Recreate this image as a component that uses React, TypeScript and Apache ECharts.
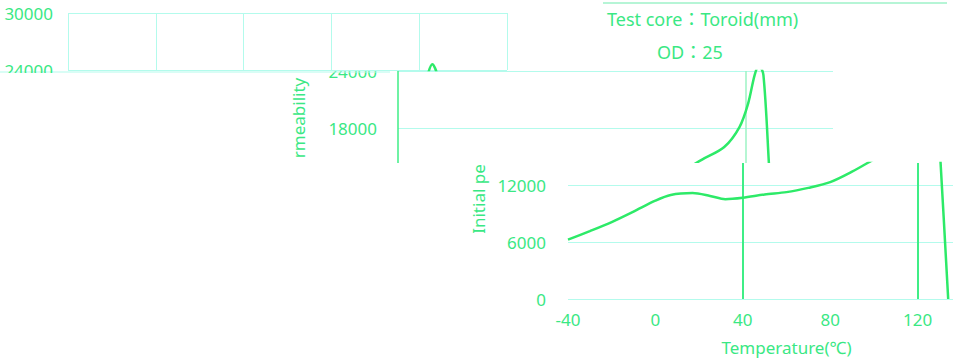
import React, { useEffect, useRef } from "react";
import * as echarts from "echarts";

// ---- data ----
const temperatures = [-40, -30, -20, -10, 0, 7, 17, 25, 32, 40, 50, 60, 70, 80, 90, 100, 110, 117, 121, 124, 126, 128, 130.5, 134];
const permeability = [6250, 7150, 8100, 9200, 10350, 10950, 11150, 10850, 10500, 10650, 11000, 11250, 11700, 12300, 13400, 14700, 16000, 18100, 20600, 23600, 24600, 23600, 14400, 0];
const xMin = -40;
const xMax = 160;
const xStep = 40;
const yStep = 6000;
const titleLines = ["Test core：Toroid(mm)", "OD：25"];
const xName = "Temperature(℃)";
const yNameParts = ["Initial pe", "rmeability"];

const FONT = '"Noto Sans", "Noto Sans CJK TC", sans-serif';
const TEXT = "#3ae884";
const LINE = "#2dea68";
const GRID = "#b3fbec";
const STRONG = "#3fee86";
const T = "rgba(255,255,255,0)";

const plain = (v: number) => String(v);

export default function App() {
  const ref = useRef<HTMLDivElement>(null);

  useEffect(() => {
    if (!ref.current) return;
    const chart = echarts.init(ref.current, undefined, { renderer: "svg" });
    const data = temperatures.map((t, i) => [t, permeability[i]]);

    const labelStyle = { color: TEXT, fontSize: 17, fontFamily: FONT, formatter: plain };

    const xAxisOf = (gridIndex: number, colors: string[], width: number, z: number, extra: any = {}) => ({
      type: "value",
      gridIndex,
      min: xMin,
      max: xMax,
      interval: xStep,
      z,
      axisLine: { show: false },
      axisTick: { show: false },
      axisLabel: { show: false },
      splitLine: { show: true, lineStyle: { color: colors, width } },
      ...extra,
    });

    const option: any = {
      animation: false,
      backgroundColor: "#ffffff",
      grid: [
        // band A (top strip)
        { left: 68, top: 13, width: 439, height: 57, outerBoundsMode: "none", containLabel: false },
        // band B (middle strip)
        { left: 398, top: 71, width: 435, height: 114, outerBoundsMode: "none", containLabel: false },
        // band C (bottom strip)
        { left: 568, top: 163, width: 437, height: 136, outerBoundsMode: "none", containLabel: false },
      ],
      xAxis: [
        xAxisOf(0, [GRID], 1, 5),
        xAxisOf(1, [STRONG, T, T, T, "#9df3c4", T], 1.5, 1),
        xAxisOf(2, [T, T, STRONG, T, STRONG, T], 2, 5, {
          axisLabel: { show: true, margin: 12, showMaxLabel: false, ...labelStyle },
          name: xName,
          nameLocation: "middle",
          nameGap: 40,
          nameTextStyle: { color: TEXT, fontSize: 17, fontFamily: FONT },
        }),
      ],
      yAxis: [
        {
          type: "value", gridIndex: 0, min: 24000, max: 30000, interval: yStep, z: 5,
          axisLine: { show: false }, axisTick: { show: false },
          axisLabel: { margin: 15, ...labelStyle, padding: [10, 0, 0, 0] },
          splitLine: { lineStyle: { color: GRID } },
        },
        {
          type: "value", gridIndex: 1, min: 12000, max: 24000, interval: yStep, z: 1,
          axisLine: { show: false }, axisTick: { show: false },
          axisLabel: { margin: 21, ...labelStyle },
          splitLine: { lineStyle: { color: GRID } },
        },
        {
          type: "value", gridIndex: 2, min: 0, max: 14316, interval: yStep, z: 5,
          axisLine: { show: false }, axisTick: { show: false },
          axisLabel: { margin: 22, showMaxLabel: false, ...labelStyle },
          splitLine: { showMaxLine: false, lineStyle: { color: [GRID, GRID, GRID, T] } },
        },
      ],
      series: [0, 1, 2].map((i) => ({
        type: "line",
        xAxisIndex: i,
        yAxisIndex: i,
        data,
        smooth: 0.3,
        showSymbol: false,
        symbol: "none",
        clip: true,
        z: i === 1 ? 2 : 6,
        lineStyle: { color: LINE, width: 2.5 },
      })),
      graphic: {
        elements: [
          // masks separating the strips
          { type: "rect", shape: { x: 0, y: 163, width: 953, height: 198 }, style: { fill: "#ffffff" }, z: 3 },
          { type: "rect", shape: { x: 318, y: 50, width: 76, height: 21 }, style: { fill: "#ffffff" }, z: 3 },
          { type: "rect", shape: { x: 0, y: 73, width: 64, height: 12 }, style: { fill: "#ffffff" }, z: 7 },
          { type: "line", shape: { x1: 0, y1: 72, x2: 390, y2: 72 }, style: { stroke: GRID, lineWidth: 1 }, z: 3 },
          // title block
          { type: "line", shape: { x1: 603, y1: 3, x2: 947, y2: 3 }, style: { stroke: "#9ef2c8", lineWidth: 1.5 }, z: 8 },
          {
            type: "text", x: 607, y: 19, z: 8,
            style: { text: titleLines[0], fill: TEXT, font: `18px ${FONT}`, textAlign: "left", textVerticalAlign: "middle", align: "left", verticalAlign: "middle" },
          },
          {
            type: "text", x: 657, y: 52, z: 8,
            style: { text: titleLines[1], fill: TEXT, font: `18px ${FONT}`, textAlign: "left", textVerticalAlign: "middle", align: "left", verticalAlign: "middle" },
          },
          // y-axis name fragments
          {
            type: "text", x: 478, y: 199, rotation: Math.PI / 2, z: 8,
            style: { text: yNameParts[0], fill: TEXT, font: `17px ${FONT}`, textAlign: "center", textVerticalAlign: "middle", align: "center", verticalAlign: "middle" },
          },
          {
            type: "text", x: 298, y: 118, rotation: Math.PI / 2, z: 2,
            style: { text: yNameParts[1], fill: TEXT, font: `17px ${FONT}`, textAlign: "center", textVerticalAlign: "middle", align: "center", verticalAlign: "middle" },
          },
        ],
      },
    };

    chart.setOption(option);
    return () => chart.dispose();
  }, []);

  return <div ref={ref} style={{ position: "absolute", left: 0, top: 0, width: 953, height: 361 }} />;
}
